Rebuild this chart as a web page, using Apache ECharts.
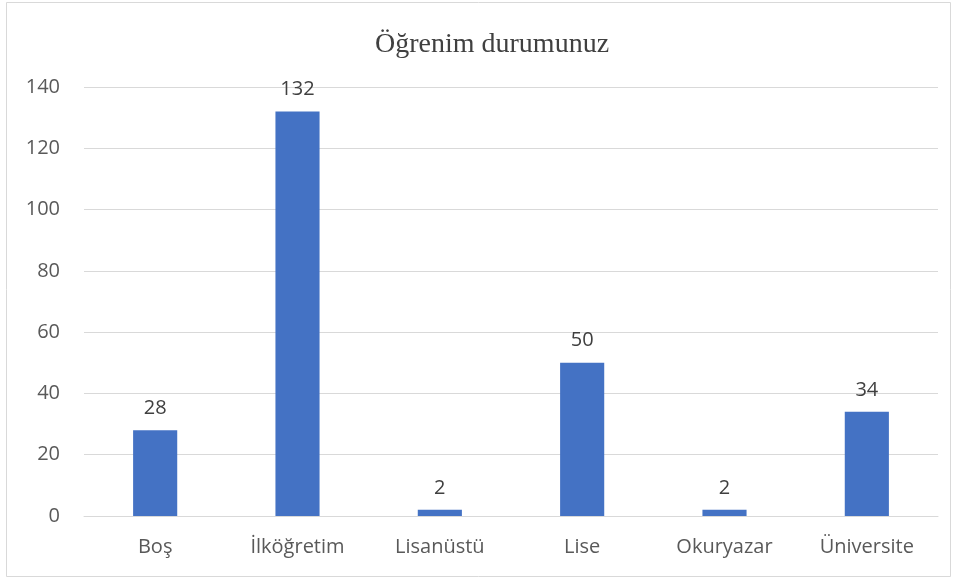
<!DOCTYPE html>
<html><head><meta charset="utf-8">
<script src="https://cdn.jsdelivr.net/npm/echarts@6/dist/echarts.min.js"></script>
<style>html,body{margin:0;padding:0;background:#fff}#c{width:959px;height:581px}</style>
</head><body><div id="c"></div>
<script>
const categories = ['Boş', 'İlköğretim', 'Lisanüstü', 'Lise', 'Okuryazar', 'Üniversite'];
const values = [28, 132, 2, 50, 2, 34];
const yTicks = [0, 20, 40, 60, 80, 100, 120, 140];
const titleText = 'Öğrenim durumunuz';

const chart = echarts.init(document.getElementById('c'));
const f = 'Open Sans, Liberation Sans';
chart.setOption({
  animation: false,
  backgroundColor: '#fff',
  graphic: [{type:'rect', shape:{x:6.5,y:2.5,width:944,height:574}, style:{fill:'none', stroke:'#d9d9d9', lineWidth:1}}],
  title: {text: titleText, left: 370, top: 26, textStyle:{fontFamily:'Liberation Serif', fontWeight:'normal', fontSize:28, color:'#404040'}},
  grid: {left: 84, right: 21, top: 87, bottom: 65},
  xAxis: {type:'category', data: categories,
    axisLine:{lineStyle:{color:'#d9d9d9', width:1}}, axisTick:{show:false},
    axisLabel:{fontFamily:f, fontSize:20, color:'#595959', margin:21}},
  yAxis: {type:'value', min: yTicks[0], max: yTicks[yTicks.length-1], interval: 20,
    axisLine:{show:false}, axisTick:{show:false},
    splitLine:{lineStyle:{color:'#d9d9d9', width:1}},
    axisLabel:{fontFamily:f, fontSize:20, color:'#595959', margin:24}},
  series: [{type:'bar', data: values, barWidth: '31%', itemStyle:{color:'#4472C4'},
    label:{show:true, position:'top', distance:12, fontFamily:f, fontSize:20, color:'#404040'}}]
});
</script></body></html>
